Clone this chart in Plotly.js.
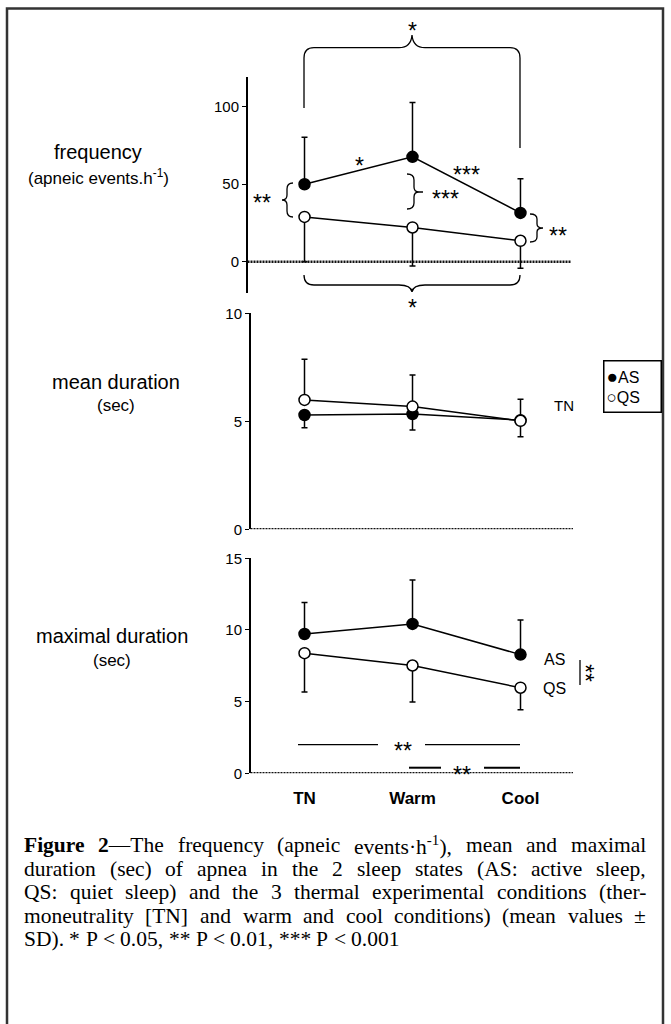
<!DOCTYPE html>
<html>
<head>
<meta charset="utf-8">
<script src="https://cdn.plot.ly/plotly-3.0.1.min.js"></script>
<style>html,body{margin:0;padding:0;background:#fff}#chart{width:671px;height:1024px}</style>
</head>
<body>
<div id="chart"></div>
<script>
// ---- data ----
const conditions = ['TN', 'Warm', 'Cool'];
const freqAS   = [50, 67.7, 31.5];
const freqAS_sd = [30.3, 35.1, 22.1];
const freqQS   = [28.9, 22.1, 13.5];
const freqQS_sd = [28.9, 24.9, 17.8];
const meanAS   = [5.29, 5.34, 5.05];
const meanAS_sd = [0.59, 0.74, 0.77];
const meanQS   = [5.99, 5.68, 5.02];
const meanQS_sd = [1.88, 1.46, 1.0];
const maxAS    = [9.72, 10.42, 8.28];
const maxAS_sd  = [2.2, 3.07, 2.41];
const maxQS    = [8.38, 7.52, 5.97];
const maxQS_sd  = [2.71, 2.55, 1.53];
const freqTicks = [0, 50, 100];
const meanTicks = [0, 5, 10];
const maxTicks  = [0, 5, 10, 15];
const captionLines = [
  '<b>Figure</b> <b>2</b>—The frequency (apneic events·h<sup>-1</sup>), mean and maximal',
  'duration (sec) of apnea in the 2 sleep states (AS: active sleep,',
  'QS: quiet sleep) and the 3 thermal experimental conditions (ther-',
  'moneutrality [TN] and warm and cool conditions) (mean values ±',
  'SD). * P &lt; 0.05, ** P &lt; 0.01, *** P &lt; 0.001'
];

// ---- helpers ----
const W = 671, H = 1024;
const X = px => px / W;
const Y = py => 1 - py / H;
const FONT = 'Arial, "Liberation Sans", sans-serif';
const zeros = conditions.map(() => 0);

function trace(y, sd, up, filled, xa, ya) {
  return {
    x: conditions, y: y, xaxis: xa, yaxis: ya, type: 'scatter',
    mode: 'lines+markers', cliponaxis: false, hoverinfo: 'skip',
    line: {color: 'black', width: 1.5},
    marker: {size: 11, color: filled ? 'black' : 'white', line: {color: 'black', width: 1.5}},
    error_y: {type: 'data', symmetric: false, array: up ? sd : zeros, arrayminus: up ? zeros : sd,
              color: 'black', thickness: 1.5, width: 3}
  };
}

const data = [
  trace(freqAS, freqAS_sd, true, true, 'x', 'y'),
  trace(freqQS, freqQS_sd, false, false, 'x', 'y'),
  trace(meanAS, meanAS_sd, false, true, 'x2', 'y2'),
  trace(meanQS, meanQS_sd, true, false, 'x2', 'y2'),
  trace(maxAS, maxAS_sd, true, true, 'x3', 'y3'),
  trace(maxQS, maxQS_sd, false, false, 'x3', 'y3')
];

function yax(domPx, range, ticks, anchor) {
  return {
    domain: [Y(domPx[1]), Y(domPx[0])], range: range, anchor: anchor,
    tickvals: ticks, ticks: 'outside', ticklen: 4, tickwidth: 1, tickcolor: 'black',
    showline: true, linecolor: 'black', linewidth: 1.5,
    showgrid: false, zeroline: false, fixedrange: true,
    tickfont: {family: FONT, size: 15, color: 'black'}
  };
}
function xax(domPx, range, anchor, labels) {
  return {
    domain: [X(domPx[0]), X(domPx[1])], range: range, anchor: anchor,
    type: 'category', categoryorder: 'array', categoryarray: conditions,
    showline: false, showgrid: false, zeroline: false, ticks: '',
    showticklabels: labels, ticklabelstandoff: 13,
    tickfont: {family: FONT, size: 17, color: 'black', weight: 'bold'}
  };
}

function P(pts) {
  return pts.map(s => s.replace(/(-?\d+(\.\d+)?),(-?\d+(\.\d+)?)/g,
    (m, a, b, c) => X(+a).toFixed(5) + ',' + Y(+c).toFixed(5))).join(' ');
}
const lineStyle = {color: 'black', width: 1.3};
const dotted = {color: '#111', width: 2.5, dash: '2px,1px'};
const shapes = [
  {type: 'rect', xref: 'paper', yref: 'paper', x0: X(7), x1: X(663), y0: Y(1030), y1: Y(8.5),
   line: {color: '#333', width: 2.5}},
  {type: 'line', xref: 'x domain', yref: 'y', x0: 0, x1: 1, y0: 0, y1: 0, line: dotted},
  {type: 'line', xref: 'x2 domain', yref: 'y2', x0: 0, x1: 1, y0: 0, y1: 0, line: dotted},
  {type: 'line', xref: 'x3 domain', yref: 'y3', x0: 0, x1: 1, y0: 0, y1: 0, line: dotted},
  {type: 'path', xref: 'paper', yref: 'paper', line: lineStyle,
   path: P(['M 304,108 L 304,58 Q 304,47.7 314,47.7 L 399,47.7 Q 411,47.7 412,35 Q 413,47.7 425,47.7 L 510,47.7 Q 520,47.7 520,58 L 520,148'])},
  {type: 'path', xref: 'paper', yref: 'paper', line: lineStyle,
   path: P(['M 304,275 Q 304,285 314,285 L 399,285 Q 411,285 412,292 Q 413,285 425,285 L 510,285 Q 520,285 520,275'])},
  {type: 'path', xref: 'paper', yref: 'paper', line: lineStyle,
   path: P(['M 293,183 Q 287,183 287,189 L 287,195 Q 287,200 282,200 Q 287,200 287,205 L 287,211 Q 287,217 293,217'])},
  {type: 'path', xref: 'paper', yref: 'paper', line: lineStyle,
   path: P(['M 407,174 Q 414,174 414,180 L 414,187 Q 414,192 419,192 L 423,192 M 419,192 Q 414,192 414,197 L 414,203 Q 414,209 407,209'])},
  {type: 'path', xref: 'paper', yref: 'paper', line: lineStyle,
   path: P(['M 530,214 Q 537,214 537,219 L 537,224 Q 537,228 543,228 Q 537,228 537,232 L 537,237 Q 537,242 530,242'])},
  {type: 'line', xref: 'paper', yref: 'paper', x0: X(298), x1: X(378), y0: Y(744.7), y1: Y(744.7), line: lineStyle},
  {type: 'line', xref: 'paper', yref: 'paper', x0: X(425), x1: X(520), y0: Y(744.7), y1: Y(744.7), line: lineStyle},
  {type: 'line', xref: 'paper', yref: 'paper', x0: X(409), x1: X(441), y0: Y(767.7), y1: Y(767.7), line: {color: 'black', width: 2}},
  {type: 'line', xref: 'paper', yref: 'paper', x0: X(484), x1: X(520), y0: Y(767.7), y1: Y(767.7), line: {color: 'black', width: 2}},
  {type: 'line', xref: 'paper', yref: 'paper', x0: X(580), x1: X(580), y0: Y(660), y1: Y(685), line: lineStyle}
];

function txt(text, px, py, size, opts) {
  return Object.assign({
    text: text, xref: 'paper', yref: 'paper', x: X(px), y: Y(py),
    xanchor: 'center', yanchor: 'middle', showarrow: false,
    font: {family: FONT, size: size, color: 'black'}
  }, opts || {});
}
const STAR = {family: '"Liberation Sans", Arial, sans-serif', size: 23, color: 'black'};
function star(text, px, py, opts) {
  return txt(text, px, py + 6, 23, Object.assign({font: STAR}, opts || {}));
}

const annotations = [
  txt('frequency', 98, 152, 20),
  txt('(apneic events.h<sup>-1</sup>)', 98, 177, 17),
  txt('mean duration', 116, 382, 20),
  txt('(sec)', 116, 405, 17),
  txt('maximal duration', 112, 636, 20),
  txt('(sec)', 112, 660, 17),
  star('*', 412, 25), star('*', 412, 301.7),
  star('**', 262, 197), star('*', 359, 160), star('***', 467, 169),
  star('***', 445, 193), star('**', 557.5, 230),
  star('**', 403, 745), star('**', 462, 769),
  txt('**', 585, 673, 23, {font: STAR, textangle: 90}),
  txt('TN', 564, 405, 15),
  txt('AS', 554, 659, 16), txt('QS', 554, 688, 16),
  txt('<span style="font-size:19px">●</span>AS<br><span style="font-size:17px">○</span>QS', 603, 360, 16,
      {xanchor: 'left', yanchor: 'top', align: 'left',
       bordercolor: 'black', borderwidth: 1.5, borderpad: 2, width: 52, height: 46, bgcolor: 'white'})
];

// ---- justified caption (words placed with measured widths) ----
const CAPF = 21.5, CAPFAM = '"Liberation Serif", "Times New Roman", serif';
const cv = document.createElement('canvas').getContext('2d');
function measure(word) {
  let w = 0; const re = /<b>(.*?)<\/b>|<sup>(.*?)<\/sup>|([^<]+)/g; let m;
  while ((m = re.exec(word)) !== null) {
    let s, f;
    if (m[1] !== undefined) { s = m[1]; f = 'bold ' + CAPF + 'px ' + CAPFAM; }
    else if (m[2] !== undefined) { s = m[2]; f = (CAPF * 0.7) + 'px ' + CAPFAM; }
    else { s = m[3]; f = CAPF + 'px ' + CAPFAM; }
    cv.font = f; w += cv.measureText(s.replace(/&lt;/g, '<')).width;
  }
  return w;
}
const capLeft = 23, capRight = 645, capY0 = 845, capDY = 23.5;
captionLines.forEach((line, i) => {
  const words = line.split(' ');
  const widths = words.map(measure);
  const total = widths.reduce((a, b) => a + b, 0);
  const last = i === captionLines.length - 1;
  const gap = last ? measure(' ') || CAPF * 0.25 : (capRight - capLeft - total) / (words.length - 1);
  let cx = capLeft;
  words.forEach((wd, j) => {
    annotations.push({text: wd, xref: 'paper', yref: 'paper', x: X(cx - 1), y: Y(capY0 + i * capDY),
      xanchor: 'left', yanchor: 'middle', showarrow: false,
      font: {family: CAPFAM, size: CAPF, color: 'black'}});
    cx += widths[j] + gap;
  });
});

const layout = {
  width: W, height: H, margin: {l: 0, r: 0, t: 0, b: 0},
  paper_bgcolor: 'white', plot_bgcolor: 'rgba(0,0,0,0)', showlegend: false,
  xaxis:  xax([247.5, 571], [-0.528, 2.468], 'y', false),
  xaxis2: xax([250.5, 573], [-0.5, 2.486], 'y2', false),
  xaxis3: xax([250.5, 573], [-0.5, 2.486], 'y3', true),
  yaxis:  yax([76.7, 292.7], [-20, 119.4], freqTicks, 'x'),
  yaxis2: yax([313.3, 529.3], [0, 10], meanTicks, 'x2'),
  yaxis3: yax([558.3, 773.3], [0, 15], maxTicks, 'x3'),
  shapes: shapes, annotations: annotations
};
Plotly.newPlot('chart', data, layout, {staticPlot: true, displayModeBar: false});
</script>
</body>
</html>
